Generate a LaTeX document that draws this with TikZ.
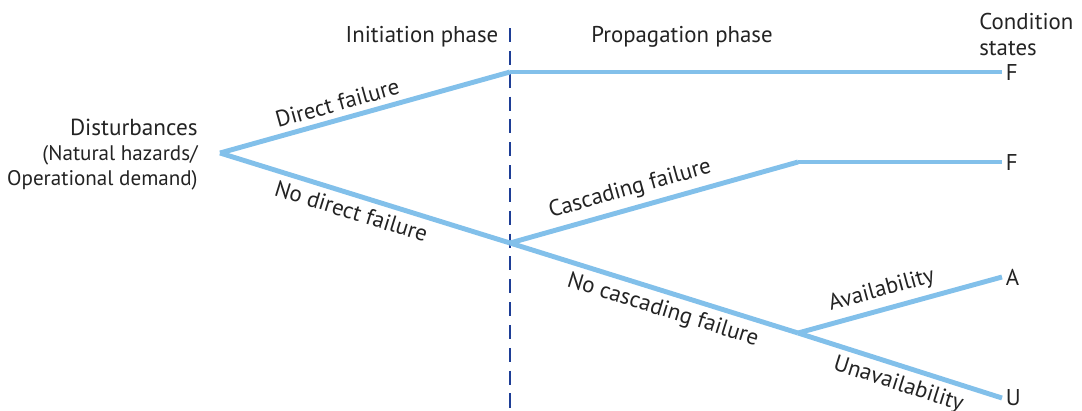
\documentclass[tikz,border=0pt]{standalone}
\usepackage{fontspec}
\setmainfont{PT Sans}
\definecolor{branchblue}{RGB}{130,192,234}
\definecolor{phaseblue}{RGB}{30,62,150}
\definecolor{textgray}{RGB}{35,35,35}
\tikzset{
  branch/.style={line width=2.8pt, branchblue},
  lbl/.style={text=textgray, font=\fontsize{13}{15}\selectfont},
  state/.style={lbl, anchor=west, inner sep=2pt},
}
\begin{document}
\begin{tikzpicture}[x=0.02cm, y=-0.02cm]
        \useasboundingbox (0, 0) rectangle (1082, 410);

        %Fases
        \draw[phaseblue, line width=1.1pt, dash pattern=on 8pt off 5pt] (510, 28) -- (510, 410);
        \node[lbl] (init) at (422, 37) {Initiation phase};
        \node[lbl] (prop) at (682, 37) {Propagation phase};
        \node[lbl, anchor=north west, align=left, inner sep=0pt] (cond) at (979, 13) {Condition\\states};

        %Pontos
        \node[lbl, anchor=east, align=right, inner sep=0pt, font=\fontsize{12}{14.2}\selectfont] (dist) at (198, 155)
            {{\fontsize{13.2}{14.2}\selectfont Disturbances}\\(Natural hazards/\\Operational demand)};
        \coordinate (root) at (220, 153);
        \coordinate (top) at (510, 72);
        \coordinate (mid) at (510, 243);
        \coordinate (casc) at (798, 162);
        \coordinate (low) at (798, 333);

        %Estados
        \node[state] (f1) at (1002, 72) {F};
        \node[state] (f2) at (1002, 162) {F};
        \node[state] (a) at (1002, 277) {A};
        \node[state] (u) at (1002, 398) {U};

        %Ramos
        \draw[branch] (root) -- (top) node[lbl, pos=0.42, above, sloped] {Direct failure};
        \draw[branch] (top) -- (f1.west);
        \draw[branch] (root) -- (mid) node[lbl, pos=0.47, below, sloped] {No direct failure};
        \draw[branch] (mid) -- (casc) node[lbl, pos=0.435, above, sloped] {Cascading failure};
        \draw[branch] (casc) -- (f2.west);
        \draw[branch] (mid) -- (low) node[lbl, pos=0.55, below, sloped] {No cascading failure};
        \draw[branch] (low) -- (a.west) node[lbl, pos=0.435, above, sloped] {Availability};
        \draw[branch] (low) -- (u.west) node[lbl, pos=0.52, below, sloped] {Unavailability};

    \end{tikzpicture}
\end{document}
